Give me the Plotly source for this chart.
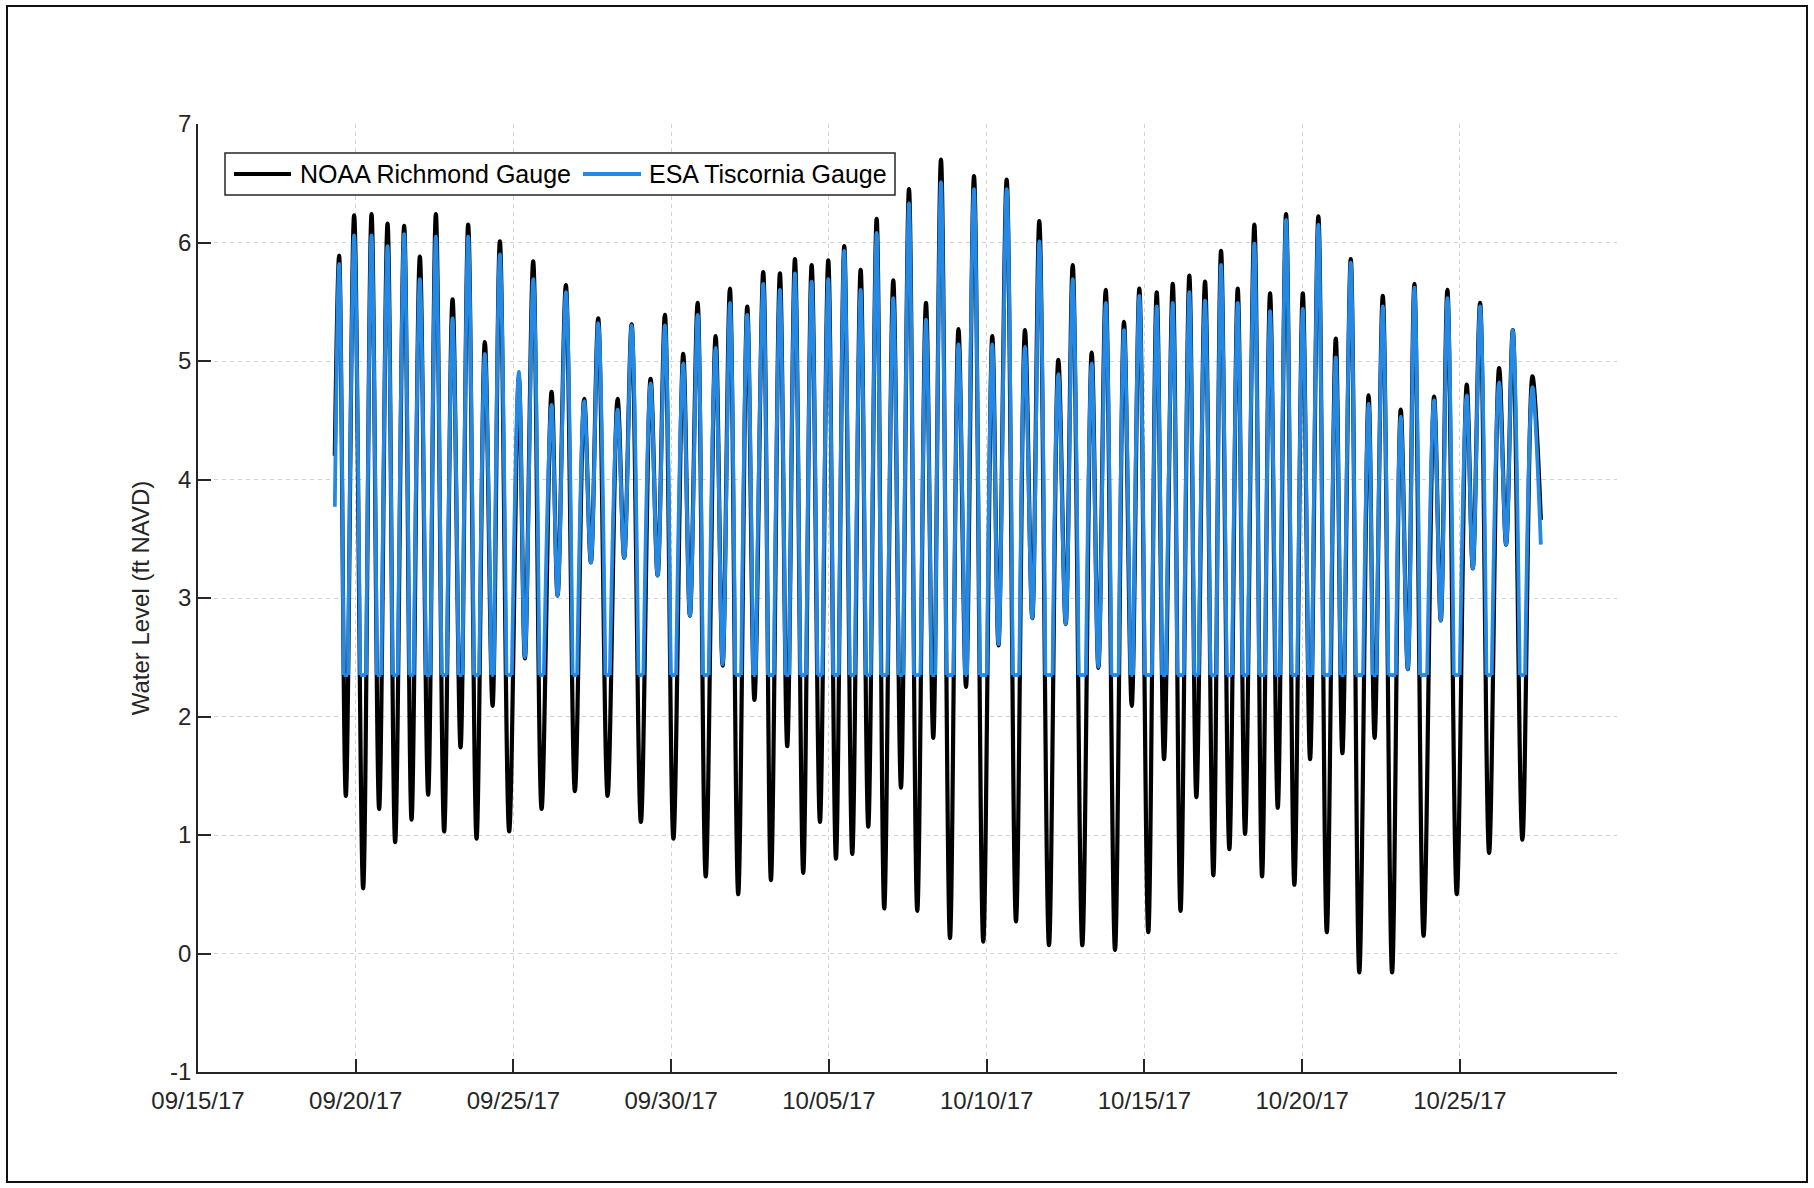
import pandas as pd
import plotly.graph_objects as go

START = pd.Timestamp("2017-09-15")

# NOAA Richmond gauge: successive tidal turning points
# (days after 09/15/17 00:00, water level in ft NAVD)
noaa_days = [
    4.337, 4.474, 4.686, 4.949, 5.235, 5.501, 5.742, 6.008, 6.249, 6.535,
    6.769, 7.032, 7.296, 7.540, 7.803, 8.069, 8.323, 8.564, 8.830, 9.093,
    9.337, 9.569, 9.864, 10.171, 10.362, 10.625, 10.891, 11.208, 11.398, 11.661,
    11.947, 12.242, 12.454, 12.686, 12.984, 13.301, 13.510, 13.745, 14.039, 14.347,
    14.569, 14.800, 15.070, 15.381, 15.593, 15.837, 16.094, 16.408, 16.630, 16.861,
    17.124, 17.410, 17.638, 17.917, 18.161, 18.446, 18.678, 18.922, 19.185, 19.452,
    19.715, 19.978, 20.222, 20.485, 20.739, 21.005, 21.246, 21.512, 21.753, 22.039,
    22.283, 22.537, 22.800, 23.076, 23.307, 23.551, 23.837, 24.106, 24.344, 24.598,
    24.892, 25.178, 25.374, 25.634, 25.929, 26.214, 26.446, 26.668, 26.975, 27.271,
    27.505, 27.727, 28.031, 28.329, 28.541, 28.774, 29.068, 29.353, 29.598, 29.839,
    30.123, 30.390, 30.622, 30.898, 31.145, 31.424, 31.647, 31.922, 32.185, 32.429,
    32.692, 32.958, 33.190, 33.485, 33.729, 33.983, 34.227, 34.490, 34.753, 35.020,
    35.251, 35.514, 35.781, 36.066, 36.275, 36.541, 36.811, 37.106, 37.296, 37.556,
    37.851, 38.126, 38.348, 38.557, 38.849, 39.182, 39.394, 39.604, 39.901, 40.218,
    40.409, 40.640, 40.926, 41.243, 41.465, 41.677, 41.981, 42.300, 42.566,
]
noaa_level = [
    4.20, 5.89, 1.33, 6.23, 0.55, 6.24, 1.22, 6.16, 0.94, 6.14,
    1.13, 5.88, 1.34, 6.24, 1.03, 5.52, 1.74, 6.15, 0.97, 5.16,
    2.09, 6.01, 1.03, 4.86, 2.49, 5.84, 1.22, 4.74, 3.02, 5.64,
    1.37, 4.68, 3.30, 5.36, 1.33, 4.68, 3.34, 5.31, 1.11, 4.85,
    3.19, 5.39, 0.97, 5.06, 2.85, 5.49, 0.65, 5.21, 2.43, 5.61,
    0.50, 5.46, 2.14, 5.75, 0.62, 5.74, 1.75, 5.86, 0.68, 5.81,
    1.11, 5.85, 0.80, 5.97, 0.84, 5.77, 1.07, 6.20, 0.38, 5.68,
    1.40, 6.45, 0.36, 5.49, 1.82, 6.70, 0.13, 5.27, 2.25, 6.56,
    0.10, 5.21, 2.60, 6.53, 0.27, 5.26, 2.83, 6.18, 0.07, 5.01,
    2.78, 5.81, 0.07, 5.07, 2.41, 5.60, 0.03, 5.33, 2.09, 5.61,
    0.18, 5.58, 1.64, 5.65, 0.36, 5.72, 1.32, 5.67, 0.66, 5.93,
    0.88, 5.61, 1.01, 6.15, 0.65, 5.57, 1.23, 6.24, 0.58, 5.57,
    1.64, 6.22, 0.18, 5.19, 1.69, 5.86, -0.16, 4.71, 1.82, 5.55,
    -0.16, 4.59, 2.40, 5.65, 0.15, 4.70, 2.81, 5.60, 0.50, 4.80,
    3.25, 5.49, 0.85, 4.94, 3.45, 5.26, 0.96, 4.87, 3.66,
]

# ESA Tiscornia gauge: turning points; the sensor bottoms out at 2.35 ft,
# so each dry spell is a flat stretch between two points at that level
ESA_FLOOR = 2.35
esa_days = [
    4.337, 4.474, 4.614, 4.758, 4.949, 5.140, 5.330, 5.501, 5.670, 5.814,
    6.008, 6.164, 6.334, 6.535, 6.697, 6.841, 7.032, 7.224, 7.368, 7.540,
    7.718, 7.888, 8.069, 8.261, 8.385, 8.564, 8.745, 8.915, 9.093, 9.295,
    9.379, 9.569, 9.779, 9.949, 10.171, 10.362, 10.625, 10.819, 10.963, 11.208,
    11.398, 11.661, 11.875, 12.019, 12.242, 12.454, 12.686, 12.912, 13.056, 13.301,
    13.510, 13.745, 13.959, 14.119, 14.347, 14.569, 14.800, 14.985, 15.155, 15.381,
    15.593, 15.837, 15.999, 16.189, 16.408, 16.630, 16.861, 17.029, 17.219, 17.410,
    17.596, 17.680, 17.917, 18.066, 18.256, 18.446, 18.616, 18.740, 18.922, 19.090,
    19.280, 19.452, 19.635, 19.795, 19.978, 20.132, 20.312, 20.485, 20.654, 20.824,
    21.005, 21.166, 21.326, 21.512, 21.648, 21.858, 22.039, 22.213, 22.353, 22.537,
    22.695, 22.905, 23.076, 23.245, 23.369, 23.551, 23.722, 23.952, 24.106, 24.309,
    24.379, 24.598, 24.777, 25.007, 25.178, 25.374, 25.634, 25.824, 26.034, 26.214,
    26.446, 26.668, 26.860, 27.090, 27.271, 27.505, 27.727, 27.916, 28.146, 28.329,
    28.541, 28.774, 28.953, 29.183, 29.353, 29.556, 29.640, 29.839, 30.008, 30.238,
    30.390, 30.560, 30.684, 30.898, 31.040, 31.250, 31.424, 31.575, 31.719, 31.922,
    32.090, 32.280, 32.429, 32.607, 32.777, 32.958, 33.105, 33.275, 33.485, 33.634,
    33.824, 33.983, 34.155, 34.299, 34.490, 34.658, 34.848, 35.020, 35.189, 35.313,
    35.514, 35.666, 35.896, 36.066, 36.213, 36.337, 36.541, 36.691, 36.931, 37.106,
    37.234, 37.358, 37.556, 37.731, 37.971, 38.126, 38.348, 38.557, 38.734, 38.964,
    39.182, 39.394, 39.604, 39.806, 39.996, 40.218, 40.409, 40.640, 40.841, 41.011,
    41.243, 41.465, 41.677, 41.896, 42.066, 42.300, 42.566,
]
esa_level = [
    3.77, 5.82, 2.35, 2.35, 6.06, 2.35, 2.35, 6.06, 2.35, 2.35,
    5.97, 2.35, 2.35, 6.07, 2.35, 2.35, 5.69, 2.35, 2.35, 6.05,
    2.35, 2.35, 5.36, 2.35, 2.35, 6.05, 2.35, 2.35, 5.06, 2.35,
    2.35, 5.90, 2.35, 2.35, 4.91, 2.50, 5.69, 2.35, 2.35, 4.63,
    3.02, 5.58, 2.35, 2.35, 4.66, 3.30, 5.32, 2.35, 2.35, 4.59,
    3.34, 5.30, 2.35, 2.35, 4.81, 3.19, 5.30, 2.35, 2.35, 4.98,
    2.85, 5.39, 2.35, 2.35, 5.11, 2.44, 5.49, 2.35, 2.35, 5.39,
    2.35, 2.35, 5.65, 2.35, 2.35, 5.60, 2.35, 2.35, 5.74, 2.35,
    2.35, 5.67, 2.35, 2.35, 5.69, 2.35, 2.35, 5.93, 2.35, 2.35,
    5.60, 2.35, 2.35, 6.08, 2.35, 2.35, 5.53, 2.35, 2.35, 6.33,
    2.35, 2.35, 5.35, 2.35, 2.35, 6.51, 2.35, 2.35, 5.14, 2.35,
    2.35, 6.45, 2.35, 2.35, 5.14, 2.61, 6.45, 2.35, 2.35, 5.12,
    2.83, 6.01, 2.35, 2.35, 4.89, 2.78, 5.69, 2.35, 2.35, 4.98,
    2.42, 5.49, 2.35, 2.35, 5.26, 2.35, 2.35, 5.55, 2.35, 2.35,
    5.46, 2.35, 2.35, 5.49, 2.35, 2.35, 5.58, 2.35, 2.35, 5.51,
    2.35, 2.35, 5.81, 2.35, 2.35, 5.49, 2.35, 2.35, 5.99, 2.35,
    2.35, 5.42, 2.35, 2.35, 6.19, 2.35, 2.35, 5.44, 2.35, 2.35,
    6.15, 2.35, 2.35, 5.03, 2.35, 2.35, 5.83, 2.35, 2.35, 4.64,
    2.35, 2.35, 5.46, 2.35, 2.35, 4.53, 2.40, 5.62, 2.35, 2.35,
    4.67, 2.81, 5.53, 2.35, 2.35, 4.71, 3.25, 5.46, 2.35, 2.35,
    4.82, 3.45, 5.26, 2.35, 2.35, 4.78, 3.45,
]

series_names = ["NOAA Richmond Gauge", "ESA Tiscornia Gauge"]
series_colors = ["#000000", "#2389E4"]

y_ticks = [-1, 0, 1, 2, 3, 4, 5, 6, 7]
y_tick_labels = ["-1", "0", "1", "2", "3", "4", "5", "6", "7"]
date_tick_days = [0, 5, 10, 15, 20, 25, 30, 35, 40]
date_tick_labels = ["09/15/17", "09/20/17", "09/25/17", "09/30/17", "10/05/17",
                    "10/10/17", "10/15/17", "10/20/17", "10/25/17"]


def to_time(days):
    return [None if d is None else START + pd.Timedelta(days=d) for d in days]


# Split the ESA record into wet stretches (smoothed) and dry spells (flat at the floor)
wet_days, wet_level = [], []
dry_days, dry_level = [], []
for i, (d, v) in enumerate(zip(esa_days, esa_level)):
    wet_days.append(d)
    wet_level.append(v)
    if v == ESA_FLOOR and i + 1 < len(esa_level) and esa_level[i + 1] == ESA_FLOOR:
        wet_days.append(None)
        wet_level.append(None)
        dry_days += [d, esa_days[i + 1], None]
        dry_level += [v, esa_level[i + 1], None]

FONT = "Liberation Sans, Arial, sans-serif"
INK = "#262626"
GRID = "#d2d2d2"

W, H = 1814, 1188
PL, PR, PT, PB = 198, 1617, 124, 1072


def fx(px):
    return (px - PL) / (PR - PL)


def fy(py):
    return (PB - py) / (PB - PT)


BLACK_W = 4.2
BLUE_W = 3.8

fig = go.Figure()
fig.add_trace(go.Scatter(
    x=to_time(noaa_days), y=noaa_level, mode="lines", name=series_names[0],
    line=dict(color=series_colors[0], width=BLACK_W, shape="spline", smoothing=1, simplify=False),
    showlegend=False, hoverinfo="skip",
))
fig.add_trace(go.Scatter(
    x=to_time(dry_days), y=dry_level, mode="lines", name=series_names[1],
    line=dict(color=series_colors[1], width=BLUE_W, simplify=False),
    connectgaps=False, showlegend=False, hoverinfo="skip",
))
fig.add_trace(go.Scatter(
    x=to_time(wet_days), y=wet_level, mode="lines", name=series_names[1],
    line=dict(color=series_colors[1], width=BLUE_W, shape="spline", smoothing=1, simplify=False),
    connectgaps=False, showlegend=False, hoverinfo="skip",
))

x_end = START + pd.Timedelta(days=44.98)
fig.update_xaxes(
    type="date", range=[START, x_end],
    tickvals=to_time(date_tick_days), ticktext=date_tick_labels,
    showgrid=True, gridcolor=GRID, griddash="4px,4px", gridwidth=1,
    showline=True, linecolor=INK, linewidth=1.5, mirror=False,
    ticks="inside", ticklen=13, tickwidth=1.5, tickcolor=INK,
    tickfont=dict(family=FONT, size=24, color=INK), ticklabelstandoff=6,
    zeroline=False,
)
fig.update_yaxes(
    range=[-1, 7], tickvals=y_ticks, ticktext=y_tick_labels,
    showgrid=True, gridcolor=GRID, griddash="4px,4px", gridwidth=1,
    showline=True, linecolor=INK, linewidth=1.5, mirror=False,
    ticks="inside", ticklen=13, tickwidth=1.5, tickcolor=INK,
    tickfont=dict(family=FONT, size=24, color=INK),
    title=dict(text="Water Level (ft NAVD)", font=dict(family=FONT, size=24, color=INK), standoff=14),
    zeroline=False,
)

shapes = [
    # outer frame of the figure
    dict(type="rect", xref="paper", yref="paper", x0=fx(7), x1=fx(1807), y0=fy(1182), y1=fy(6),
         line=dict(color="#111111", width=2), fillcolor="rgba(0,0,0,0)", layer="above"),
    # legend box and line samples
    dict(type="rect", xref="paper", yref="paper", x0=fx(225), x1=fx(895), y0=fy(195), y1=fy(153),
         line=dict(color=INK, width=1.5), fillcolor="white", layer="above"),
    dict(type="line", xref="paper", yref="paper", x0=fx(234), x1=fx(291), y0=fy(174), y1=fy(174),
         line=dict(color=series_colors[0], width=BLACK_W), layer="above"),
    dict(type="line", xref="paper", yref="paper", x0=fx(583), x1=fx(641), y0=fy(174), y1=fy(174),
         line=dict(color=series_colors[1], width=BLUE_W), layer="above"),
]
annotations = [
    dict(xref="paper", yref="paper", x=fx(298), y=fy(174), text=series_names[0], showarrow=False,
         xanchor="left", yanchor="middle", font=dict(family=FONT, size=25, color="#000000")),
    dict(xref="paper", yref="paper", x=fx(647), y=fy(174), text=series_names[1], showarrow=False,
         xanchor="left", yanchor="middle", font=dict(family=FONT, size=25, color="#000000")),
]

fig.update_layout(
    width=W, height=H,
    margin=dict(l=PL, r=W - PR, t=PT, b=H - PB, autoexpand=False),
    paper_bgcolor="white", plot_bgcolor="white",
    shapes=shapes, annotations=annotations,
    showlegend=False,
    font=dict(family=FONT, color=INK),
)

fig.write_html("out.html", config={"displayModeBar": False})
